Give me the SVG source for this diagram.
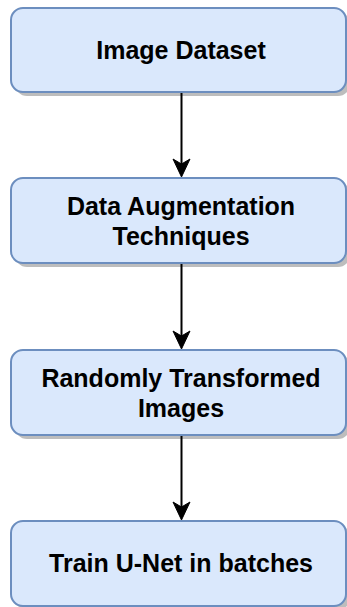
<svg xmlns="http://www.w3.org/2000/svg" width="347" height="607" viewBox="0 0 347 607">
<defs>
<style>
.shadow{fill:#bdbdbd;}
.box{fill:#dae8fc;stroke:#6c8ebf;stroke-width:2;}
.lbl{font-family:"Liberation Sans",Arial,sans-serif;font-weight:bold;font-size:25px;fill:#000;text-anchor:middle;}
.edge{stroke:#000;stroke-width:2;fill:none;}
.head{fill:#000;stroke:#000;stroke-width:1;}
</style>
</defs>
<rect width="347" height="607" fill="#ffffff"/>
<g id="node-image-dataset">
<rect class="shadow" x="15" y="12" width="335" height="84" rx="12"/>
<rect class="box" x="11" y="8" width="335" height="84" rx="12"/>
<text class="lbl" x="181" y="59">Image Dataset</text>
</g>
<g id="node-data-augmentation">
<rect class="shadow" x="15" y="182" width="335" height="85" rx="12"/>
<rect class="box" x="11" y="178" width="335" height="85" rx="12"/>
<text class="lbl" x="181" y="215">Data Augmentation</text>
<text class="lbl" x="181" y="245">Techniques</text>
</g>
<g id="node-randomly-transformed">
<rect class="shadow" x="15" y="354" width="335" height="85" rx="12"/>
<rect class="box" x="11" y="350" width="335" height="85" rx="12"/>
<text class="lbl" x="181" y="387">Randomly Transformed</text>
<text class="lbl" x="181" y="417">Images</text>
</g>
<g id="node-train-unet">
<rect class="shadow" x="15" y="525" width="335" height="85" rx="12"/>
<rect class="box" x="11" y="521" width="335" height="85" rx="12"/>
<text class="lbl" x="181" y="572">Train U-Net in batches</text>
</g>
<g id="connectors">
<line class="edge" x1="181.5" y1="93" x2="181.5" y2="164"/>
<path class="head" d="M181.5 177 L173 159 L181.5 164 L190 159 Z"/>
<line class="edge" x1="181.5" y1="264" x2="181.5" y2="336"/>
<path class="head" d="M181.5 349 L173 331 L181.5 336 L190 331 Z"/>
<line class="edge" x1="181.5" y1="436" x2="181.5" y2="507"/>
<path class="head" d="M181.5 520 L173 502 L181.5 507 L190 502 Z"/>
</g>
</svg>
